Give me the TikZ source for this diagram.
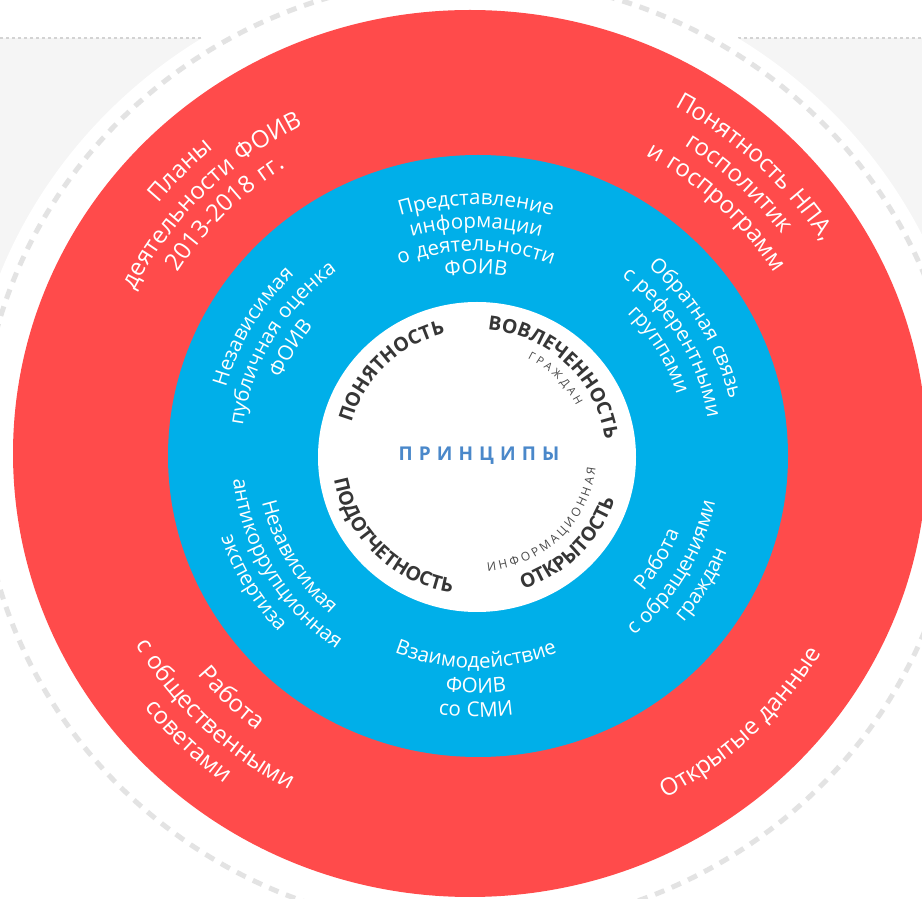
\documentclass[tikz,border=0pt]{standalone}
\usepackage{fontspec}
\setmainfont{Open Sans}
\usetikzlibrary{decorations.text}
\definecolor{redc}{HTML}{FF4B4B}
\definecolor{bluec}{HTML}{00AFE9}
\definecolor{ringc}{HTML}{E3E3E3}
\definecolor{bandc}{HTML}{F5F5F5}
\definecolor{dotc}{HTML}{D3D3D3}
\definecolor{princ}{HTML}{4A88CA}
\definecolor{darkc}{HTML}{363636}
\definecolor{smallc}{HTML}{4A4A4A}
\newcommand\fRed{\fontsize{24}{24}\selectfont\addfontfeature{LetterSpace=6}}
\newcommand\fBlue{\fontsize{20.5}{20.5}\selectfont\addfontfeature{LetterSpace=5}}
\newcommand\fPri{\fontsize{19.5}{19.5}\selectfont\bfseries}
\newcommand\fSmall{\fontsize{11}{11}\selectfont}
\newcommand\fSmallB{\fontsize{12}{12}\selectfont}
% #1 format, #2 colour, #3 text, #4 baseline radius, #5 centre angle
\newcommand\TopArc[5]{%
  \path[decorate,decoration={text along path,text align=center,text color=#2,text={|#1|#3}}]
    ([shift={(476,443)}]{#5+70}:{1.03*#4} and {#4})
    arc[start angle={#5+70},end angle={#5-70},x radius={1.03*#4},y radius={#4}];}
\newcommand\BotArc[5]{%
  \path[decorate,decoration={text along path,text align=center,text color=#2,text={|#1|#3}}]
    ([shift={(476,443)}]{#5-70}:{1.03*#4} and {#4})
    arc[start angle={#5-70},end angle={#5+70},x radius={1.03*#4},y radius={#4}];}
\begin{document}
\begin{tikzpicture}[x=1pt,y=1pt]
\useasboundingbox (0,0) rectangle (922,898);
\clip (0,0) rectangle (922,898);
\fill[white] (0,0) rectangle (922,898);
\fill[bandc] (0,593) rectangle (922,860);
\draw[dotc,line width=1.2pt,dash pattern=on 3pt off 3pt] (0,860) -- (922,860);
\fill[white] (470,444.5) ellipse [x radius=505,y radius=490];
\draw[ringc,line width=5pt,dash pattern=on 10pt off 8pt] (470,444.5) ellipse [x radius=490,y radius=476];
\fill[redc] (470,444.5) ellipse [x radius=457,y radius=443.5];
\fill[bluec] (478,442) ellipse [x radius=310,y radius=301];
\fill[white] (477,441) ellipse [x radius=159,y radius=155];
% red ring
\TopArc{\fRed}{white}{Планы}{398}{136}
\TopArc{\fRed}{white}{деятельности ФОИВ}{370}{136}
\TopArc{\fRed}{white}{2013-2018 гг.}{342}{136}
\TopArc{\fRed}{white}{Понятность НПА,}{398}{46}
\TopArc{\fRed}{white}{госполитик}{370}{46}
\TopArc{\fRed}{white}{и госпрограмм}{342}{46}
\BotArc{\fRed}{white}{Работа}{348}{225}
\BotArc{\fRed}{white}{с общественными}{381}{225}
\BotArc{\fRed}{white}{советами}{409}{225}
\BotArc{\fRed}{white}{Открытые данные}{389}{314.5}
% blue ring
\TopArc{\fBlue}{white}{Представление}{250}{90}
\TopArc{\fBlue}{white}{информации}{227}{90}
\TopArc{\fBlue}{white}{о деятельности}{204}{90}
\TopArc{\fBlue}{white}{ФОИВ}{181}{90}
\TopArc{\fBlue}{white}{Обратная связь}{252}{30}
\TopArc{\fBlue}{white}{с референтными}{228}{30}
\TopArc{\fBlue}{white}{группами}{204}{30}
\TopArc{\fBlue}{white}{Независимая}{252}{150}
\TopArc{\fBlue}{white}{публичная оценка}{228}{150}
\TopArc{\fBlue}{white}{ФОИВ}{204}{150}
\BotArc{\fBlue}{white}{Независимая}{213}{210}
\BotArc{\fBlue}{white}{антикоррупционная}{237}{210}
\BotArc{\fBlue}{white}{экспертиза}{261}{210}
\BotArc{\fBlue}{white}{Взаимодействие}{213}{270}
\BotArc{\fBlue}{white}{ФОИВ}{238}{270}
\BotArc{\fBlue}{white}{со СМИ}{262}{270}
\BotArc{\fBlue}{white}{Работа}{212}{330}
\BotArc{\fBlue}{white}{с обращениями}{237}{330}
\BotArc{\fBlue}{white}{граждан}{262}{330}
% principles
\TopArc{\fPri}{darkc}{ПОНЯТНОСТЬ}{125}{135}
\TopArc{\fPri}{darkc}{ВОВЛЕЧЕННОСТЬ}{126}{45.5}
\TopArc{\fSmall}{smallc}{Г{\kern3pt}Р{\kern3pt}А{\kern3pt}Ж{\kern3pt}Д{\kern3pt}А{\kern3pt}Н}{109}{44}
\BotArc{\fPri}{darkc}{ПОДОТЧЕТНОСТЬ}{140}{224.7}
\BotArc{\fPri}{darkc}{ОТКРЫТОСТЬ}{142}{315.7}
\BotArc{\fSmallB}{smallc}{И{\kern3pt}Н{\kern3pt}Ф{\kern3pt}О{\kern3pt}Р{\kern3pt}М{\kern3pt}А{\kern3pt}Ц{\kern3pt}И{\kern3pt}О{\kern3pt}Н{\kern3pt}Н{\kern3pt}А{\kern3pt}Я}{117}{315}
\node[text=princ,font=\fontsize{19}{19}\selectfont\bfseries\addfontfeature{LetterSpace=32}] (principles) at (479,442.5) {ПРИНЦИПЫ};
\end{tikzpicture}
\end{document}
